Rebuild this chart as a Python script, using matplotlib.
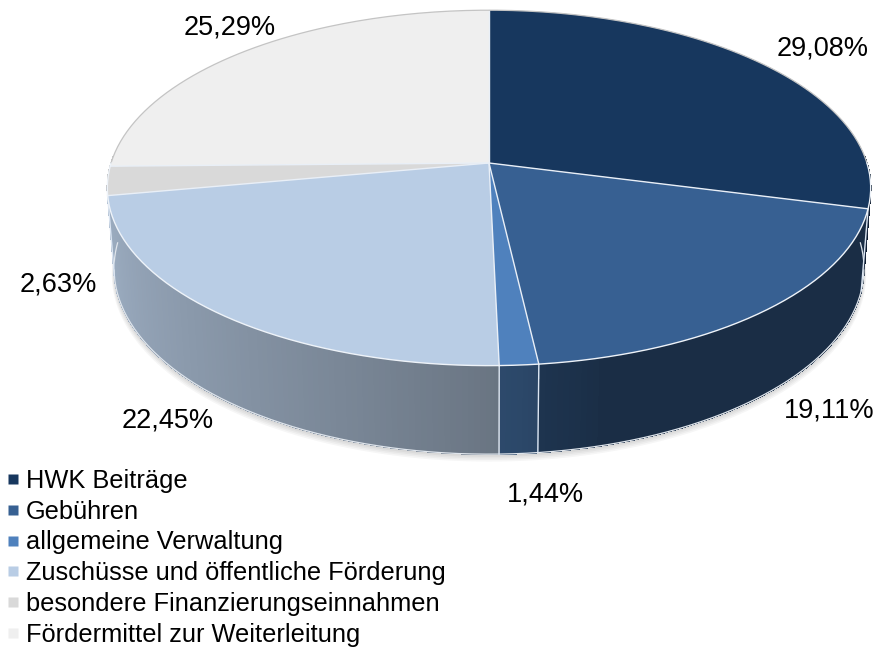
import numpy as np
import matplotlib
matplotlib.use('Agg')
import matplotlib.pyplot as plt
from matplotlib.patches import Polygon
from matplotlib.lines import Line2D
from matplotlib.colors import to_rgb

# ---------------- data ----------------
categories = ['HWK Beiträge', 'Gebühren', 'allgemeine Verwaltung',
              'Zuschüsse und öffentliche Förderung',
              'besondere Finanzierungseinnahmen',
              'Fördermittel zur Weiterleitung']
shares = [29.08, 19.11, 1.44, 22.45, 2.63, 25.29]
colors = ['#17375E', '#376092', '#4F81BD', '#B9CDE5', '#D9D9D9', '#EFEFEF']

plt.rcParams['font.family'] = ['Liberation Sans', 'DejaVu Sans']

W, H = 895, 649
fig = plt.figure(figsize=(W / 100, H / 100), dpi=100)
ax = fig.add_axes([0, 0, 1, 1])
ax.set_xlim(0, W)
ax.set_ylim(H, 0)
ax.axis('off')

# ---------------- perspective projection of a tilted disc ----------------
CX, CY = 489, 163
K = 2392.0
R = 0.158
CA, SA = 0.887, 0.461
HGT = 0.0383


def proj(phi_deg, rr=1.0, y=0.0):
    p = np.radians(phi_deg)
    X = R * rr * np.sin(p)
    Z = R * rr * np.cos(p)
    fwd = 1 + Z * CA - y * SA
    up = y * CA + Z * SA
    return CX + K * X / fwd, CY - K * up / fwd


def shade(phi):
    t = np.clip((phi - 165) / 95.0, 0, 1) ** 0.7
    return 0.47 + 0.38 * t


total = float(sum(shares))
bounds = np.concatenate([[0], np.cumsum(shares)]) / total * 360.0

# ---------------- soft shadow ----------------
phis = np.linspace(0, 360, 361)
for i in range(5):
    sx, sy = proj(phis, 1.0 + 0.0015 * i, -HGT)
    ax.add_patch(Polygon(np.column_stack([sx, sy + 1.2 * (i + 1)]), closed=True,
                         facecolor='black', alpha=0.035, edgecolor='none', zorder=1))

# ---------------- side wall ----------------
strips = []
for i, (a0, a1) in enumerate(zip(bounds[:-1], bounds[1:])):
    lo, hi = max(a0, 88), min(a1, 272)
    if hi <= lo:
        continue
    n = max(2, int(np.ceil((hi - lo) / 0.8)))
    edges = np.linspace(lo, hi, n + 1)
    base = np.array(to_rgb(colors[i]))
    for p0, p1 in zip(edges[:-1], edges[1:]):
        mid = 0.5 * (p0 + p1)
        col = np.clip(base * shade(mid), 0, 1)
        tx0, ty0 = proj(p0)
        tx1, ty1 = proj(p1)
        bx0, by0 = proj(p0, y=-HGT)
        bx1, by1 = proj(p1, y=-HGT)
        strips.append((np.cos(np.radians(mid)),
                       [(tx0, ty0), (tx1, ty1), (bx1, by1), (bx0, by0)], col))
strips.sort(key=lambda s: -s[0])
for _, pts, col in strips:
    ax.add_patch(Polygon(pts, closed=True, facecolor=col, edgecolor=col,
                         linewidth=0.5, antialiased=False, zorder=2))

# smooth outline of the wall silhouette
bp = np.linspace(90, 270, 200)
bx, by = proj(bp, y=-HGT)
ax.plot(bx, by, color='#dfe5ec', lw=0.9, zorder=3)
for side_phi, col in ((98.0, '#1c2a43'), (262.0, '#9dafc7')):
    tx, ty = proj(side_phi)
    bx_, by_ = proj(side_phi, y=-HGT)
    ax.plot([tx, bx_], [ty, by_], color=col, lw=1.0, zorder=3)

# slice boundaries on the wall
for b in bounds[1:-1]:
    if 100 < b < 260:
        tx, ty = proj(b)
        bx_, by_ = proj(b, y=-HGT)
        ax.plot([tx, bx_], [ty, by_], color='#dce6f2', lw=1.0, zorder=3)

# ---------------- top faces ----------------
for i, (a0, a1) in enumerate(zip(bounds[:-1], bounds[1:])):
    arc = np.linspace(a0, a1, max(3, int((a1 - a0) * 2)))
    ax_, ay_ = proj(arc)
    pts = np.vstack([[CX, CY], np.column_stack([ax_, ay_])])
    ax.add_patch(Polygon(pts, closed=True, facecolor=colors[i],
                         edgecolor='none', zorder=4))

# radial separators
for b in bounds[:-1]:
    ex, ey = proj(b)
    ax.plot([CX, ex], [CY, ey], color='#e9eff7', lw=1.0, zorder=5)

# rim
back = np.linspace(-90, 90, 200)
rx, ry = proj(back)
ax.plot(rx, ry, color='#c4c4c4', lw=0.9, zorder=5)
front = np.linspace(90, 270, 200)
rx, ry = proj(front)
ax.plot(rx, ry, color='#eef3f9', lw=1.0, zorder=5)

# ---------------- data labels ----------------
label_texts = [('%.2f' % v).replace('.', ',') + '%' for v in shares]
label_offsets_px = [(58, -16), (69, 14), (27, 41), (-59, 19), (-56, 23), (-14, -24)]
for i, (a0, a1) in enumerate(zip(bounds[:-1], bounds[1:])):
    mid = 0.5 * (a0 + a1)
    yy = -HGT if np.cos(np.radians(mid)) < 0 else 0.0
    axp, ayp = proj(mid, 1.0, yy)
    dx, dy = label_offsets_px[i]
    ax.annotate(label_texts[i], xy=(axp, ayp), xytext=(dx * 0.72, -dy * 0.72),
                textcoords='offset points', ha='center', va='center',
                fontsize=19.5, color='black', zorder=6)

# ---------------- legend ----------------
handles = [Line2D([], [], ls='none', marker='s', ms=7, mfc=c, mec='none')
           for c in colors]
fig.legend(handles, categories, loc='upper left',
           bbox_to_anchor=(0.006, 1 - 469 / H), frameon=False, fontsize=18.3,
           handlelength=0.6, handletextpad=0.2, labelspacing=0.265,
           borderaxespad=0, borderpad=0)

fig.savefig('out.png', dpi=100)
